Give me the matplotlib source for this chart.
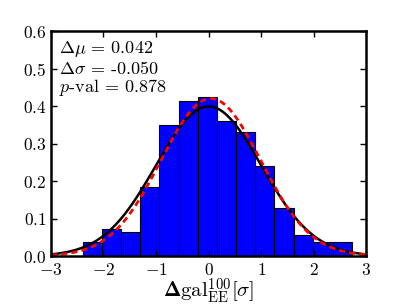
import numpy as np
import matplotlib
matplotlib.use("Agg")
import matplotlib.pyplot as plt

# histogram (density normalised)
bin_edges = [-2.396, -2.034, -1.672, -1.305, -0.943, -0.56, -0.2, 0.156,
             0.524, 0.886, 1.253, 1.623, 1.99, 2.358, 2.728]
heights = [0.037, 0.073, 0.063, 0.183, 0.349, 0.414, 0.423, 0.359,
           0.331, 0.240, 0.129, 0.055, 0.037, 0.037]

# reference unit gaussian and fitted gaussian
ref_mu, ref_sigma = 0.0, 1.0
fit_mu, fit_sigma = 0.042, 0.950
stats_text = ["$\\Delta\\mu$ = 0.042", "$\\Delta\\sigma$ = -0.050", "$p$-val = 0.878"]

plt.rcParams['font.family'] = 'serif'
plt.rcParams['font.serif'] = ['cmr10', 'DejaVu Serif']
plt.rcParams['mathtext.fontset'] = 'cm'
plt.rcParams['axes.formatter.use_mathtext'] = True

def gauss(x, mu, sig):
    return np.exp(-0.5 * ((x - mu) / sig) ** 2) / (sig * np.sqrt(2 * np.pi))

fig = plt.figure(figsize=(4.07, 3.07), dpi=100)
ax = fig.add_axes([0.125, 0.166, 0.775, 0.733])

edges = np.array(bin_edges)
ax.bar(edges[:-1], heights, width=np.diff(edges), align='edge',
       color='#0000ff', edgecolor='black', linewidth=0.8)

xs = np.linspace(-3, 3, 300)
ax.plot(xs, gauss(xs, ref_mu, ref_sigma), color='black', lw=1.8)
ax.plot(xs, gauss(xs, fit_mu, fit_sigma), color='red', lw=2, ls=(0, (2.2, 1.5)))

ax.text(0.025, 0.965, "\n".join(stats_text), transform=ax.transAxes,
        va='top', ha='left', fontsize=13, linespacing=1.05)

ax.set_xlim(-3, 3)
ax.set_ylim(0, 0.6)
ax.set_xticks([-3, -2, -1, 0, 1, 2, 3])
ax.set_yticks([0.0, 0.1, 0.2, 0.3, 0.4, 0.5, 0.6])
ax.yaxis.set_major_formatter(matplotlib.ticker.FuncFormatter(lambda v, p: "$%.1f$" % v))
ax.tick_params(direction='in', top=True, right=True, length=4, width=1,
               labelsize=12.5)
ax.tick_params(axis='x', pad=4.5)
ax.tick_params(axis='y', pad=3)
for s in ax.spines.values():
    s.set_linewidth(1.8)
# cmb10 keeps the capital Delta at code 0xa2 (BaKoMa encoding)
ax.set_xlabel("$\\mathbf{\u00a2}\\mathrm{gal}^{\\mathbf{100}}_{\\mathrm{EE}}[\\sigma]$",
              fontsize=15, labelpad=-1)

fig.savefig("out.png", dpi=100)
